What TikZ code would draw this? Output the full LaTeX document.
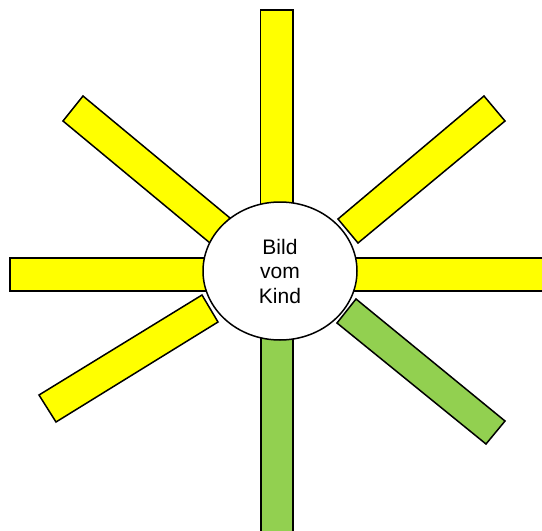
\documentclass[tikz,border=0pt]{standalone}
\usepackage{fontspec}
\setmainfont{Liberation Sans}
\usetikzlibrary{shapes.geometric}
\definecolor{rayyellow}{HTML}{FFFF00}
\definecolor{raygreen}{HTML}{92D050}
\tikzset{
  ray/.style={draw=black, line width=1.5pt, line join=miter},
  yray/.style={ray, fill=rayyellow},
  gray/.style={ray, fill=raygreen},
  centre/.style={ellipse, draw=black, line width=1.5pt, fill=white, minimum width=154pt, minimum height=138pt, inner sep=0pt, align=center, font=\fontsize{21}{24.5}\selectfont}
}
\begin{document}
\begin{tikzpicture}[x=1pt,y=-1pt]
\useasboundingbox (0,0) rectangle (542,531);
% top
\draw[yray] (260.5,10) rectangle (293,215);
% bottom (green)
\draw[gray] (261,330) rectangle (293,540);
% left
\draw[yray] (10,258) rectangle (215,291);
% right
\draw[yray] (345,258) rectangle (545,291);
% upper left
\draw[yray] (83,96) -- (230,218) -- (210,243) -- (63,121) -- cycle;
% upper right
\draw[yray] (484,96) -- (505,121) -- (358,243) -- (338,219) -- cycle;
% lower left
\draw[yray] (39,395) -- (202,295) -- (218,322) -- (56,422) -- cycle;
% lower right (green)
\draw[gray] (356,299) -- (505,421) -- (486,444) -- (337,323) -- cycle;
% centre
\node[centre] (kind) at (280,271) {Bild\\vom\\Kind};
\end{tikzpicture}
\end{document}
